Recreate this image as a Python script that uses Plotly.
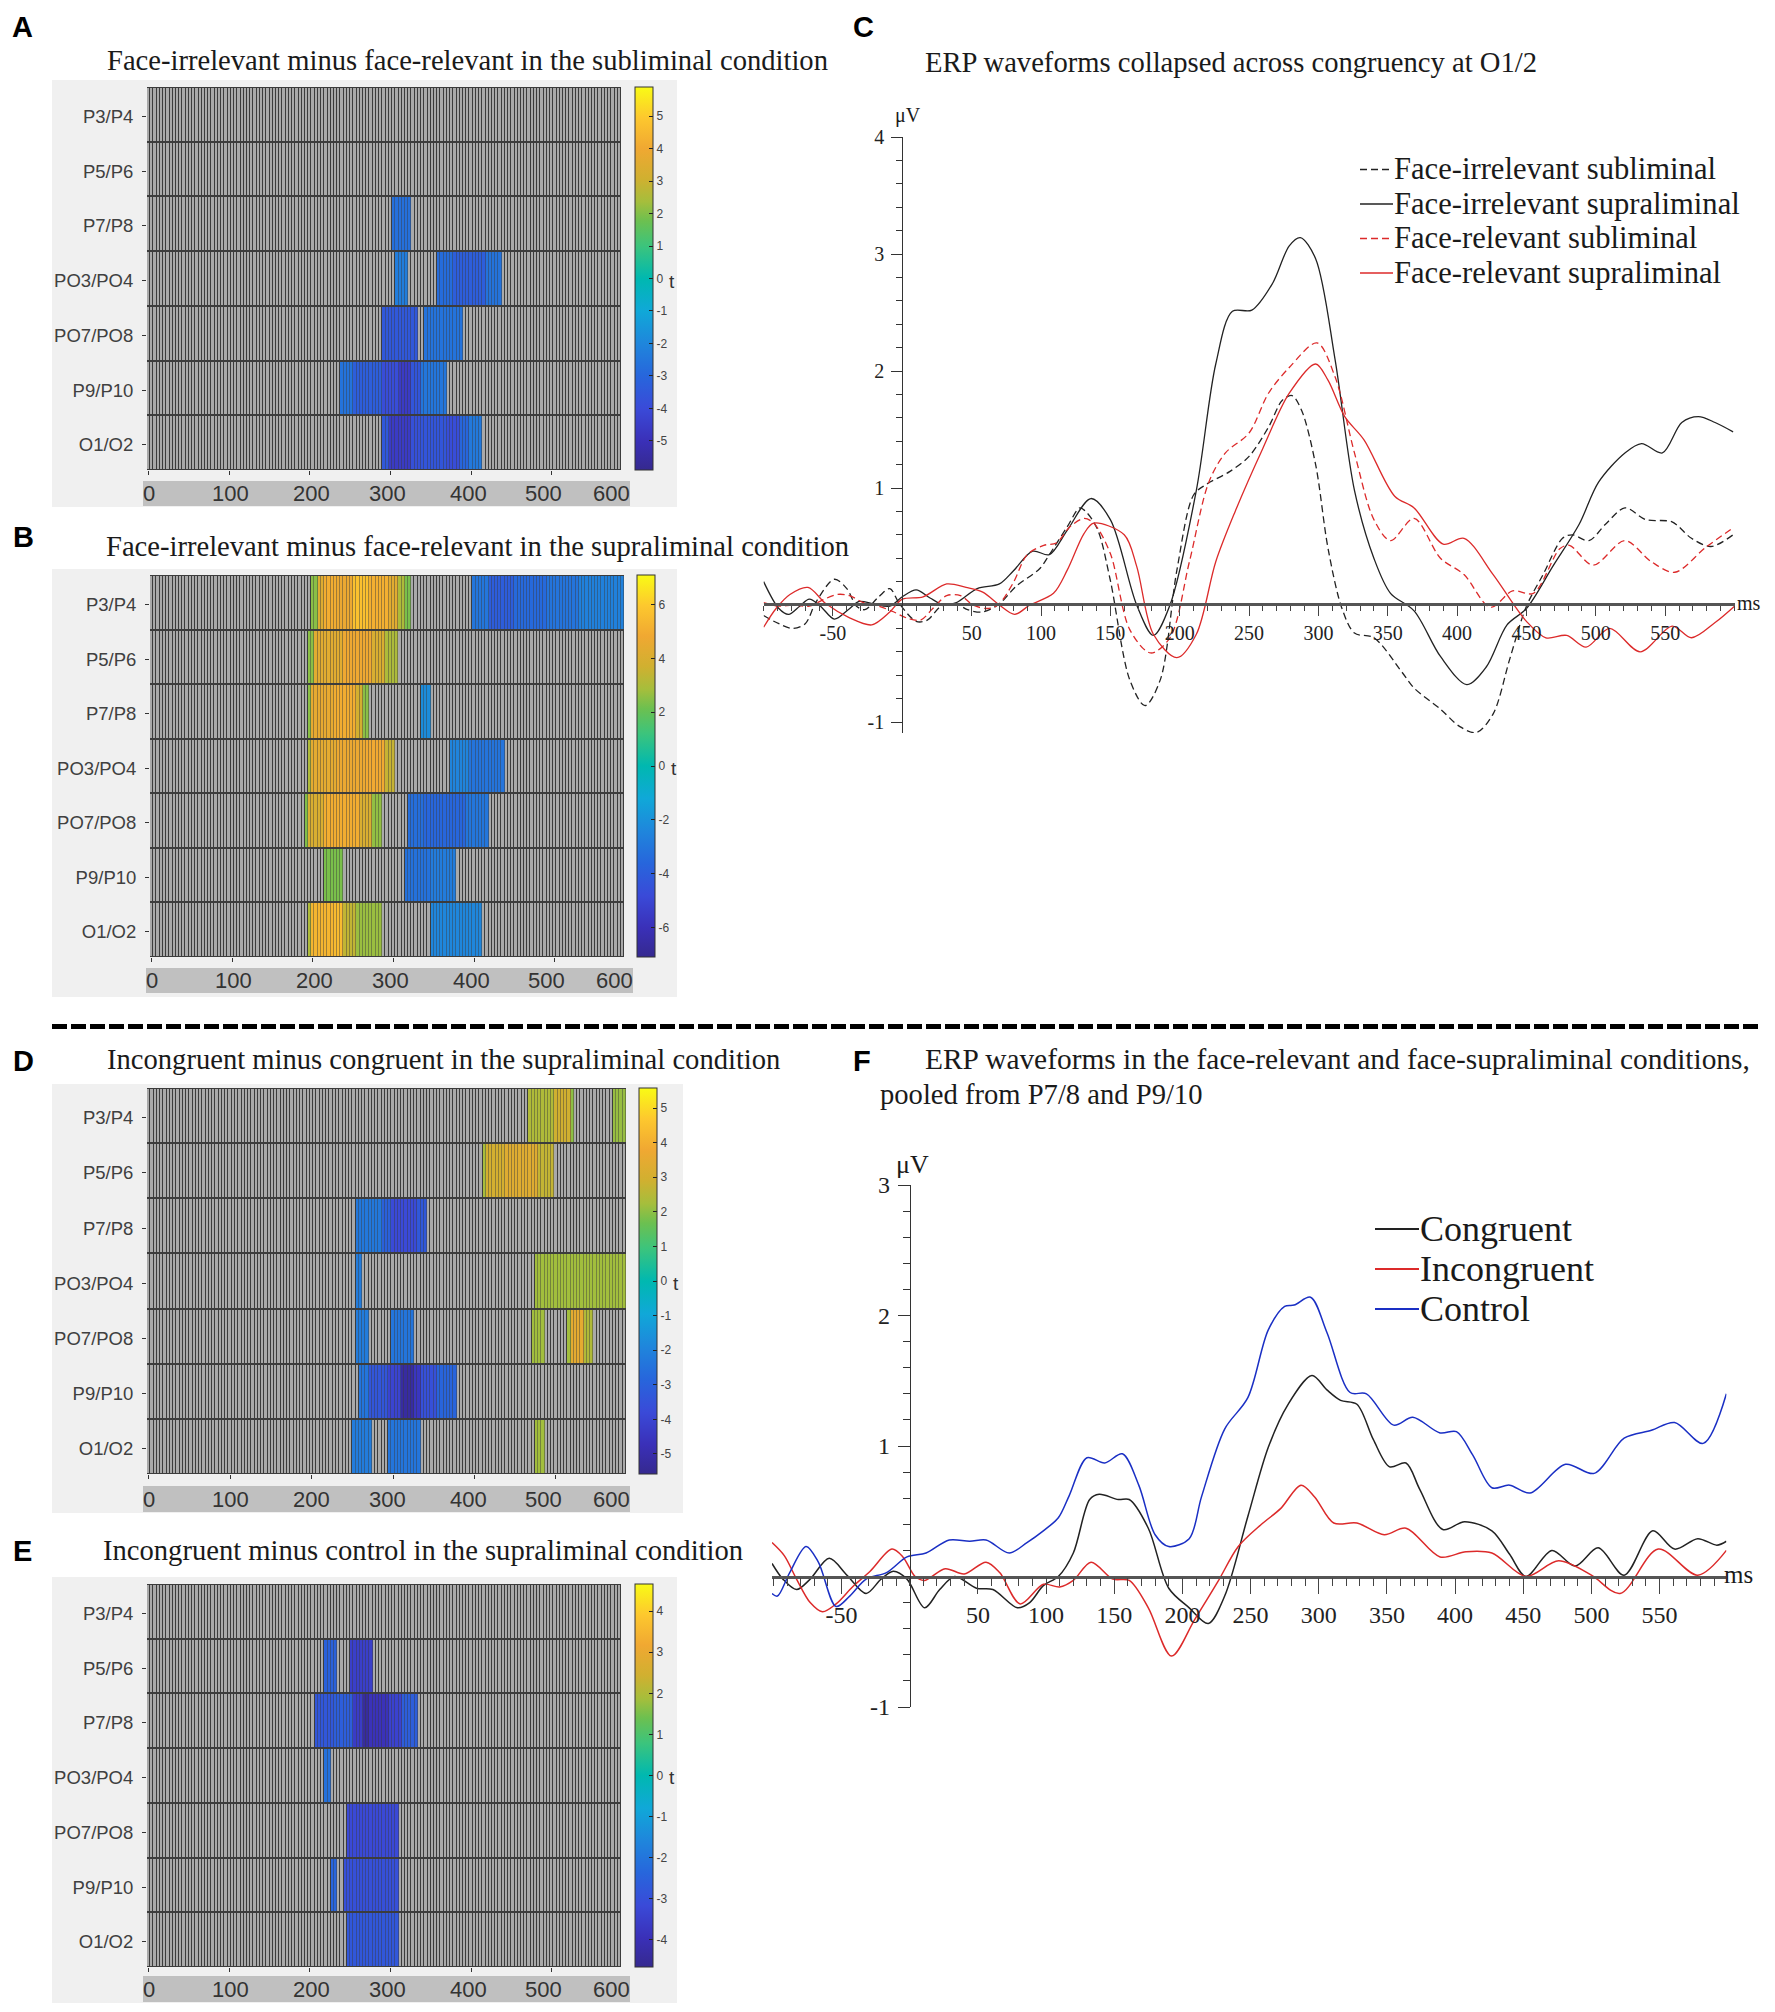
import numpy as np
import plotly.graph_objects as go

W, H = 1775, 2012

ELECTRODES = ["P3/P4", "P5/P6", "P7/P8", "PO3/PO4", "PO7/PO8", "P9/P10", "O1/O2"]
HEAT_TICK_LABELS = ["0", "100", "200", "300", "400", "500", "600"]
TIME_BINS = list(range(0, 588, 4))

# significant t-value runs per electrode: (start ms, end ms, t)
A_RUNS = [
    [], [],
    [(301, 328, -2.7)],
    [(305, 324, -2.3), (359, 380, -2.8), (380, 420, -3.3), (420, 439, -2.6)],
    [(289, 336, -3.5), (343, 389, -2.6)],
    [(239, 255, -2.6), (255, 290, -3.3), (290, 310, -3.9), (310, 325, -4.6), (325, 340, -3.6), (340, 370, -2.5)],
    [(289, 300, -3.5), (300, 325, -4.6), (325, 340, -3.8), (340, 370, -3.6), (370, 385, -3.9), (385, 400, -3.0), (400, 416, -2.4)],
]
B_RUNS = [
    [(197, 205, 2.5), (205, 215, 4.2), (215, 230, 5.0), (230, 250, 4.7), (250, 272, 5.7), (272, 296, 5.1), (296, 307, 4.3),
     (307, 316, 3.0), (316, 323, 2.3), (397, 420, -3.0), (420, 450, -4.0), (450, 490, -3.5), (490, 530, -3.1), (530, 586, -2.6)],
    [(193, 202, 2.5), (202, 240, 4.3), (240, 275, 4.8), (275, 292, 4.0), (292, 305, 3.0)],
    [(193, 200, 2.5), (200, 225, 4.5), (225, 255, 5.0), (255, 262, 3.8), (262, 270, 2.5), (335, 347, -2.2)],
    [(193, 200, 3.0), (200, 230, 4.4), (230, 265, 4.7), (265, 290, 4.9), (290, 301, 3.5), (369, 395, -2.5), (395, 440, -3.1)],
    [(189, 195, 2.4), (195, 215, 4.0), (215, 260, 5.0), (260, 275, 4.0), (275, 286, 2.6), (320, 340, -3.3), (340, 390, -3.6), (390, 420, -3.0)],
    [(213, 240, 2.3), (316, 345, -3.2), (345, 378, -2.8)],
    [(193, 200, 3.0), (200, 225, 5.3), (225, 240, 5.5), (240, 255, 3.4), (255, 286, 2.7), (347, 409, -2.4)],
]
D_RUNS = [
    [(467, 500, 2.4), (500, 518, 2.9), (518, 524, 2.0), (571, 588, 2.1)],
    [(409, 415, 2.3), (415, 440, 3.0), (440, 480, 3.3), (480, 497, 2.7)],
    [(255, 285, -2.3), (285, 300, -3.0), (300, 330, -3.8), (330, 344, -3.3)],
    [(255, 262, -2.2), (473, 588, 2.2)],
    [(255, 271, -2.2), (298, 328, -2.4), (471, 486, 2.2), (513, 520, 2.2), (520, 535, 3.5), (535, 548, 2.4)],
    [(259, 270, -2.4), (270, 295, -3.4), (295, 310, -4.0), (310, 325, -5.2), (325, 335, -4.5), (335, 355, -3.6), (355, 378, -2.9)],
    [(251, 274, -2.2), (294, 335, -2.4), (473, 486, 2.2)],
]
E_RUNS = [
    [],
    [(217, 233, -2.5), (251, 278, -3.5)],
    [(208, 230, -2.8), (230, 255, -2.6), (255, 265, -3.6), (265, 275, -4.4), (275, 300, -3.9), (300, 315, -3.4), (315, 336, -2.6)],
    [(217, 225, -2.1)],
    [(247, 312, -3.2)],
    [(225, 233, -2.4), (244, 312, -3.0)],
    [(247, 309, -2.8)],
]

# Panel C waveforms
C_FI_SUB_T = [-100,-89,-79,-70,-62,-49,-40,-33,-27,-17,-9,-2,10,18,28,39,47,58,70,82,99,106,119,128,133,141,150,164,175,186,198,210,219,236,250,264,274,281,288,298,307,317,326,340,360,369,388,402,414,426,438,450,462,476,483,495,507,521,536,555,569,583,599]
C_FI_SUB_V = [-.09,-.16,-.20,-.16,.03,.22,.14,-.01,-.04,.07,.14,.01,-.14,-.13,-.01,.01,-.04,-.06,.01,.16,.31,.43,.67,.83,.79,.64,.21,-.64,-.86,-.64,.30,.94,1.03,1.14,1.27,1.52,1.75,1.79,1.66,1.2,.48,-.03,-.24,-.28,-.57,-.71,-.89,-1.04,-1.09,-.93,-.46,-.01,.26,.57,.60,.55,.69,.83,.73,.71,.57,.50,.60]
C_FI_SUP_T = [-100,-89,-82,-74,-67,-59,-49,-39,-31,-21,-9,0,10,20,30,39,54,70,80,94,106,119,136,150,169,181,193,212,226,238,252,267,279,287,298,312,326,340,352,369,388,407,421,436,450,469,488,502,521,533,548,562,574,586,599]
C_FI_SUP_V = [.20,-.03,-.08,-.01,.05,-.01,-.12,-.04,.03,.01,-.01,.07,.13,.06,0,.02,.14,.18,.29,.46,.43,.64,.91,.73,0,-.26,0,.98,2.06,2.51,2.52,2.75,3.07,3.14,2.96,2.1,.98,.40,.10,-.05,-.44,-.68,-.53,-.17,-.03,.33,.69,1.05,1.30,1.38,1.30,1.56,1.61,1.56,1.48]
C_FR_SUB_T = [-100,-89,-79,-67,-58,-47,-38,-28,-17,-6,3,13,22,32,42,51,61,69,80,90,102,111,121,131,138,150,164,179,193,207,221,233,250,264,279,299,312,326,340,352,369,388,405,424,440,455,474,481,498,521,540,557,579,599]
C_FR_SUB_V = [.02,-.01,0,-.01,.04,.09,.08,.02,-.01,-.06,-.11,-.13,-.03,.08,.08,0,-.03,0,.19,.43,.51,.53,.67,.74,.70,.44,-.21,-.41,-.28,.37,1.05,1.30,1.47,1.81,2.03,2.24,1.95,1.30,.73,.55,.74,.40,.26,-.02,.12,.10,.48,.51,.34,.55,.37,.28,.49,.66]
C_FR_SUP_T = [-100,-91,-81,-68,-55,-38,-22,-9,0,15,32,46,58,70,81,92,109,119,131,138,160,169,181,198,212,226,240,260,279,298,307,319,333,355,369,390,405,426,450,464,479,493,510,532,555,569,586,600]
C_FR_SUP_V = [-.19,-.03,.09,.15,.01,-.11,-.17,-.06,.05,.07,.18,.15,.11,0,-.08,0,.10,.30,.61,.70,.60,.33,-.25,-.45,-.25,.37,.80,1.34,1.81,2.06,1.92,1.61,1.41,.93,.83,.52,.57,.26,-.14,-.28,-.26,-.36,-.20,-.40,-.18,-.28,-.15,-.01]

# Panel F waveforms
F_CON_T = [-101,-93,-83,-73,-59,-46,-32,-21,-12,-2,11,22,33,49,61,79,88,98,109,120,132,139,153,161,175,190,205,219,231,248,263,277,295,306,316,328,340,352,364,374,391,407,427,440,452,471,488,505,524,545,561,578,592,599]
F_CON_V = [.10,-.02,-.10,-.02,.14,.01,-.13,-.02,.04,-.02,-.24,-.10,0,-.09,-.10,-.24,-.20,-.07,0,.18,.59,.63,.59,.59,.37,-.09,-.24,-.36,-.15,.46,.99,1.31,1.54,1.43,1.35,1.32,1.05,.84,.87,.67,.36,.42,.35,.17,0,.20,.08,.22,.01,.35,.21,.29,.24,.27]
F_INC_T = [-101,-92,-83,-73,-64,-54,-42,-29,-13,-5,4,11,26,40,56,66,81,98,110,120,133,149,161,175,192,209,226,241,258,272,287,297,311,328,348,364,389,408,427,452,476,500,521,549,578,599]
F_INC_V = [.26,.16,-.02,-.20,-.27,-.21,-.08,.04,.21,.15,0,-.03,.06,.02,.11,.03,-.21,-.06,-.08,-.03,.11,-.02,-.03,-.24,-.61,-.33,-.04,.23,.40,.52,.70,.61,.41,.41,.32,.37,.15,.19,.18,0,.12,.01,-.13,.21,.01,.20]
F_CTL_T = [-101,-97,-88,-76,-67,-54,-44,-32,-17,-2,12,29,44,56,73,86,98,109,117,130,143,156,168,180,190,205,214,231,248,263,275,282,294,306,323,335,355,369,389,401,413,427,440,455,481,502,524,544,561,582,599]
F_CTL_V = [-.13,-.15,.03,.23,.11,-.23,-.15,-.02,.03,.15,.18,.28,.27,.28,.18,.26,.35,.45,.62,.91,.87,.94,.70,.32,.23,.29,.61,1.13,1.37,1.89,2.07,2.08,2.14,1.87,1.41,1.40,1.16,1.22,1.10,1.11,.93,.68,.70,.64,.86,.79,1.06,1.12,1.18,1.02,1.40]

C_NAMES = ["Face-irrelevant subliminal", "Face-irrelevant supraliminal", "Face-relevant subliminal", "Face-relevant supraliminal"]
F_NAMES = ["Congruent", "Incongruent", "Control"]

PARULA = [[0, "#35298f"], [.076, "#3a30b8"], [.16, "#3a4ad8"], [.246, "#2766dc"], [.33, "#1f86dc"], [.415, "#10a8d8"],
          [.5, "#00b8b0"], [.585, "#3cc47c"], [.65, "#6cc050"], [.70, "#a5be3c"], [.76, "#d0b030"], [.84, "#f0a832"], [.92, "#fdc82e"], [1, "#f9fb15"]]
SERIF = "Liberation Serif"
SANS = "Liberation Sans"


def fx(x):
    return x / W


def fy(y):
    return 1 - y / H


def expand(runs):
    z = []
    for row in runs:
        r = [None] * len(TIME_BINS)
        for s, e, t in row:
            for i, b in enumerate(TIME_BINS):
                if s <= b < e:
                    r[i] = t
        z.append(r)
    return z


fig = go.Figure()
layout = dict(shapes=[], annotations=[])


def text(x, y, s, size, font=SERIF, color="#1a1a1a", anchor="left", bold=False, valign="middle"):
    layout["annotations"].append(dict(x=fx(x), y=fy(y), xref="paper", yref="paper", text=f"<b>{s}</b>" if bold else s,
                                      showarrow=False, xanchor=anchor, yanchor=valign, borderpad=0,
                                      font=dict(family=font, size=size, color=color)))


def rect(x0, y0, x1, y1, color):
    layout["shapes"].append(dict(type="rect", xref="paper", yref="paper", x0=fx(x0), x1=fx(x1), y0=fy(y0), y1=fy(y1),
                                 fillcolor=color, line_width=0, layer="below"))


def pline(x0, x1, y, color, dash="solid", width=1.4):
    layout["shapes"].append(dict(type="line", xref="paper", yref="paper", x0=fx(x0), x1=fx(x1), y0=fy(y), y1=fy(y),
                                 line=dict(color=color, width=width, dash=dash)))


HEAT_LABEL_OFFSETS = [1.5, 83, 164, 240, 321, 396, 464]


def heat_panel(n, runs, geom, zmax, cb_ticks):
    bx0, by0, bx1, by1 = geom["bg"]
    px0, py0, px1, py1 = geom["plot"]
    cx0, cx1 = geom["cb"]
    rect(bx0, by0, bx1, by1, "#f0f0f0")
    rect(px0 - 4, geom["band"][0], px0 + 483, geom["band"][1], "#c0c0c0")
    rect(px0, py0, px1, py1, "#3c3c3c")
    xa, ya = f"xaxis{n}", f"yaxis{n}"
    layout[xa] = dict(domain=[fx(px0), fx(px1)], range=[-2, 586], anchor=f"y{n}", showgrid=False, zeroline=False,
                      tickvals=[0, 100, 200, 300, 400, 500], ticks="outside", ticklen=4, tickcolor="#333",
                      showticklabels=False)
    layout[ya] = dict(domain=[fy(py1), fy(py0)], range=[6.5, -0.5], anchor=f"x{n}", showgrid=False, zeroline=False,
                      tickvals=[i + 0.04 for i in range(7)], ticktext=ELECTRODES, ticks="outside", ticklen=4, tickcolor="#333",
                      ticklabelstandoff=5, tickfont=dict(family=SANS, size=18.5, color="#404040"))
    z = expand(runs)
    grey = [[0 if v is None else None for v in row] for row in z]
    fig.add_trace(go.Heatmap(x=TIME_BINS, y=list(range(7)), z=grey, xaxis=f"x{n}", yaxis=f"y{n}", xgap=1, ygap=2,
                             colorscale=[[0, "#a9a9a9"], [1, "#a9a9a9"]], showscale=False, hoverinfo="skip"))
    fig.add_trace(go.Heatmap(x=TIME_BINS, y=list(range(7)), z=z, xaxis=f"x{n}", yaxis=f"y{n}", xgap=0, ygap=2,
                             colorscale=PARULA, zmin=-zmax, zmax=zmax, opacity=0.55, showscale=False, hoverinfo="skip"))
    fig.add_trace(go.Heatmap(x=TIME_BINS, y=list(range(7)), z=z, xaxis=f"x{n}", yaxis=f"y{n}", xgap=1, ygap=2,
                             colorscale=PARULA, zmin=-zmax, zmax=zmax,
                             colorbar=dict(x=fx(cx0), xanchor="left", y=fy(py1), yanchor="bottom", lenmode="pixels",
                                           len=py1 - py0, thicknessmode="pixels", thickness=cx1 - cx0, xpad=0, ypad=0,
                                           tickvals=cb_ticks, ticktext=[str(v) for v in cb_ticks], ticks="inside", ticklen=4,
                                           tickcolor="#222", tickfont=dict(family=SANS, size=12, color="#444"),
                                           outlinewidth=1, outlinecolor="#333")))
    for off, lab in zip(HEAT_LABEL_OFFSETS, HEAT_TICK_LABELS):
        text(px0 + off, sum(geom["band"]) / 2, lab, 22, SANS, "#333", anchor="center")
    text(geom["t"][0], geom["t"][1], "t", 19, SANS, "#333", anchor="center")


heat_panel(1, A_RUNS, dict(bg=(52, 80, 677, 507), plot=(147, 87, 621, 470), band=(481, 506), cb=(635, 653), t=(672, 282)),
           5.9, [-5, -4, -3, -2, -1, 0, 1, 2, 3, 4, 5])
heat_panel(2, B_RUNS, dict(bg=(52, 569, 677, 997), plot=(150, 575, 624, 957), band=(968, 993), cb=(637, 655), t=(674, 768)),
           7.1, [-6, -4, -2, 0, 2, 4, 6])
heat_panel(3, D_RUNS, dict(bg=(52, 1084, 683, 1513), plot=(147, 1088, 626, 1474), band=(1486, 1512), cb=(639, 657), t=(676, 1283)),
           5.58, [-5, -4, -3, -2, -1, 0, 1, 2, 3, 4, 5])
heat_panel(4, E_RUNS, dict(bg=(52, 1577, 677, 2003), plot=(147, 1584, 621, 1967), band=(1976, 2002), cb=(635, 653), t=(672, 1777)),
           4.66, [-4, -3, -2, -1, 0, 1, 2, 3, 4])


def wave_axes(n, xr, x0, x1, yr, ytop, ybot, zero_px, origin_px, size, tlen, tminor, xlen, xminor, standoff, yt):
    xt = [-50] + list(range(50, 600, 50))
    layout[f"xaxis{n}"] = dict(domain=[fx(x0), fx(x1)], range=xr, anchor="free", position=fy(zero_px), side="bottom",
                               showgrid=False, zeroline=False, showline=True, linecolor="#555", linewidth=2.5,
                               tickvals=xt, ticktext=[str(v) for v in xt],
                               ticks="outside", ticklen=xlen, tickcolor="#444", tickwidth=1.2, ticklabelstandoff=standoff,
                               tickfont=dict(family=SERIF, size=size, color="#222"),
                               minor=dict(dtick=10, tick0=0, ticks="outside", ticklen=xminor, tickcolor="#444", tickwidth=1.2))
    layout[f"yaxis{n}"] = dict(domain=[fy(ybot), fy(ytop)], range=yr, anchor="free", position=fx(origin_px), side="left",
                               showgrid=False, zeroline=False, showline=True, linecolor="#333", linewidth=1.2,
                               tickvals=yt, ticktext=[str(v) for v in yt], ticks="outside", ticklen=tlen, tickcolor="#333",
                               tickwidth=1.2, ticklabelstandoff=3, tickfont=dict(family=SERIF, size=size, color="#222"),
                               minor=dict(dtick=0.2, tick0=0, ticks="outside", ticklen=tminor, tickcolor="#333", tickwidth=1.2))


wave_axes(5, [-100, 600], 763.6, 1734.5, [-1.094, 4], 137, 733, 604, 902.3, 20, 11, 6, 10, 5, 0, [-1, 1, 2, 3, 4])
wave_axes(6, [-101, 599], 772, 1726.4, [-1.0, 3], 1185, 1707, 1576.5, 910, 24, 12, 6.5, 16, 7.5, 0, [-1, 1, 2, 3])

BLACK, RED, BLUE = "#222222", "#dc2a2a", "#1a2fc4"
DASH = "7px,4px"
C_STYLES = [(BLACK, DASH), (BLACK, "solid"), (RED, DASH), (RED, "solid")]
for name, t, v, (col, dash) in zip(C_NAMES, [C_FI_SUB_T, C_FI_SUP_T, C_FR_SUB_T, C_FR_SUP_T],
                                   [C_FI_SUB_V, C_FI_SUP_V, C_FR_SUB_V, C_FR_SUP_V], C_STYLES):
    fig.add_trace(go.Scatter(x=t, y=v, name=name, mode="lines", xaxis="x5", yaxis="y5", showlegend=False,
                             line=dict(color=col, width=1.3, dash=dash, shape="spline", smoothing=0.9)))
for name, t, v, col in zip(F_NAMES, [F_CON_T, F_INC_T, F_CTL_T], [F_CON_V, F_INC_V, F_CTL_V], [BLACK, RED, BLUE]):
    fig.add_trace(go.Scatter(x=t, y=v, name=name, mode="lines", xaxis="x6", yaxis="y6", showlegend=False,
                             line=dict(color=col, width=1.5, shape="spline", smoothing=0.9)))

for name, ypos, (col, dash) in zip(C_NAMES, [169.5, 204, 238.5, 273], C_STYLES):
    pline(1360, 1393, ypos, col, dash, 1.4)
    text(1393, ypos, name, 30.6)
for name, ypos, col in zip(F_NAMES, [1229, 1269, 1309], [BLACK, RED, BLUE]):
    pline(1375, 1419, ypos, col, "solid", 1.8)
    text(1419, ypos, name, 36)

# titles and panel letters
TITLE = 28.6
text(106, 60, "Face-irrelevant minus face-relevant in the subliminal condition", TITLE)
text(105, 547, "Face-irrelevant minus face-relevant in the supraliminal condition", TITLE)
text(924, 63, "ERP waveforms collapsed across congruency at O1/2", TITLE)
text(106, 1059, "Incongruent minus congruent in the supraliminal condition", TITLE)
text(102, 1550, "Incongruent minus control in the supraliminal condition", TITLE)
text(924, 1059, "ERP waveforms in the face-relevant and face-supraliminal conditions,", 29.4)
text(879, 1094, "pooled from P7/8 and P9/10", TITLE)
for s, x, y in [("A", 11, 27), ("B", 12, 537), ("C", 852, 27), ("D", 12, 1061), ("E", 12, 1551), ("F", 852, 1061)]:
    text(x, y, s, 29, SANS, "#000", bold=True)
text(908, 116, "μV", 20, anchor="center")
text(1736, 603, "ms", 20)
text(912, 1164, "μV", 26, anchor="center")
text(1723, 1574, "ms", 25)

pline(52, 1758, 1026.5, "#000", "15px,4px", 5)

fig.update_layout(
    width=W, height=H, autosize=False, margin=dict(l=0, r=0, t=0, b=0, autoexpand=False),
    paper_bgcolor="white", plot_bgcolor="rgba(0,0,0,0)", showlegend=False,
    **layout,
)
fig.write_html("out.html", post_script="document.body.style.margin='0';", config={"displayModeBar": False})
